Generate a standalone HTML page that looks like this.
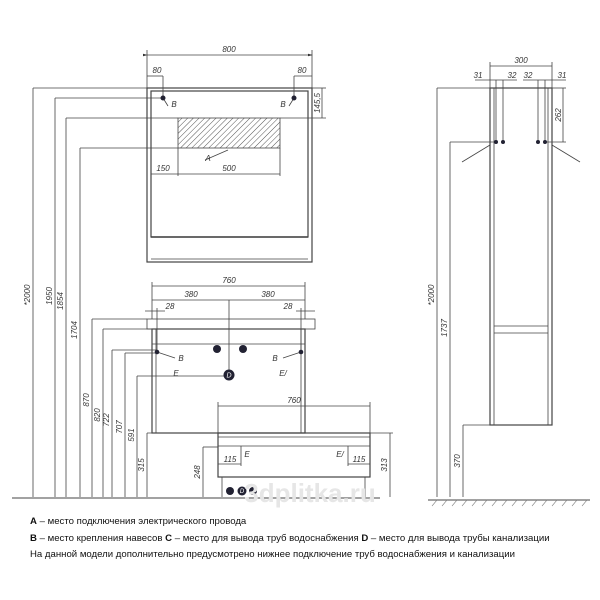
<!DOCTYPE html>
<html><head><meta charset="utf-8"><style>
body{margin:0;background:#fff}
svg{display:block}
text{font-family:"Liberation Sans",sans-serif;}
.d{font-size:8px;font-style:italic;fill:#333}
.t{font-size:9.6px;fill:#111}
</style></head><body>
<svg width="600" height="600" viewBox="0 0 600 600" xmlns="http://www.w3.org/2000/svg">
<defs>
<pattern id="h" width="4" height="4" patternUnits="userSpaceOnUse" patternTransform="rotate(45)"><line x1="0" y1="0" x2="0" y2="4" stroke="#555" stroke-width="1"/></pattern>
<marker id="a" markerWidth="6" markerHeight="6" refX="5" refY="3" orient="auto"><path d="M0,1.5 L6,3 L0,4.5z" fill="#333"/></marker>
</defs>
<g stroke="#444" stroke-width="0.8" fill="none">
<!-- mirror -->
<rect x="147" y="88" width="165" height="174" stroke-width="1.2"/>
<rect x="151" y="91" width="157" height="146" stroke-width="1.2"/>
<line x1="151" y1="237" x2="308" y2="237" stroke-width="1.5"/>
<line x1="151" y1="259" x2="308" y2="259"/>
<rect x="178" y="118" width="102" height="30" fill="url(#h)"/>
<line x1="147" y1="50" x2="147" y2="88"/><line x1="312" y1="50" x2="312" y2="88"/>
<line x1="147" y1="55" x2="312" y2="55" marker-end="url(#a)" marker-start="url(#a)"/>
<line x1="147" y1="76" x2="163" y2="76"/><line x1="163" y1="76" x2="163" y2="98"/>
<line x1="294" y1="76" x2="312" y2="76"/><line x1="294" y1="76" x2="294" y2="98"/>
<line x1="151" y1="174" x2="280" y2="174"/><line x1="178" y1="148" x2="178" y2="176"/><line x1="280" y1="148" x2="280" y2="176"/>
<line x1="312" y1="88" x2="326" y2="88"/><line x1="280" y1="118" x2="326" y2="118"/><line x1="322" y1="88" x2="322" y2="118"/>
<line x1="205" y1="160" x2="228" y2="150"/>
<line x1="168" y1="106" x2="163" y2="98"/><line x1="289" y1="106" x2="294" y2="98"/>
<!-- leaders -->
<line x1="33" y1="88" x2="147" y2="88"/><line x1="55" y1="98" x2="163" y2="98"/>
<line x1="66" y1="118" x2="178" y2="118"/><line x1="80" y1="148" x2="178" y2="148"/>
<line x1="92" y1="319" x2="147" y2="319"/><line x1="103" y1="329" x2="152" y2="329"/>
<line x1="112" y1="350" x2="157" y2="350"/><line x1="125" y1="353" x2="157" y2="353"/>
<line x1="137" y1="376" x2="229" y2="376"/>
<g>
<line x1="33" y1="88" x2="33" y2="497"/><line x1="55" y1="98" x2="55" y2="497"/><line x1="66" y1="118" x2="66" y2="497"/><line x1="80" y1="148" x2="80" y2="497"/>
<line x1="92" y1="319" x2="92" y2="497"/><line x1="103" y1="329" x2="103" y2="497"/><line x1="112" y1="350" x2="112" y2="497"/><line x1="125" y1="353" x2="125" y2="497"/><line x1="137" y1="376" x2="137" y2="497"/><line x1="147" y1="433" x2="147" y2="497"/>
</g>
<line x1="12" y1="498" x2="380" y2="498" stroke-width="1"/>
<!-- vanity -->
<rect x="147" y="319" width="168" height="10"/>
<rect x="152" y="329" width="153" height="104" stroke-width="1.2"/>
<line x1="156" y1="329" x2="156" y2="433"/><line x1="301" y1="329" x2="301" y2="433"/>
<line x1="152" y1="344" x2="305" y2="344"/>
<line x1="152" y1="282" x2="152" y2="319"/><line x1="305" y1="282" x2="305" y2="319"/>
<line x1="152" y1="286" x2="305" y2="286"/><line x1="152" y1="300" x2="305" y2="300"/>
<line x1="229" y1="300" x2="229" y2="376"/>
<line x1="145" y1="311" x2="165" y2="311"/><line x1="296" y1="311" x2="315" y2="311"/>
<line x1="157" y1="308" x2="157" y2="352"/><line x1="301" y1="308" x2="301" y2="352"/>
<line x1="157" y1="352" x2="175" y2="358"/><line x1="301" y1="352" x2="283" y2="358"/>
<!-- lower -->
<line x1="147" y1="433" x2="218" y2="433"/>
<rect x="218" y="433" width="152" height="44" stroke-width="1.2"/>
<line x1="218" y1="437" x2="370" y2="437"/><line x1="218" y1="446" x2="370" y2="446"/>
<line x1="222" y1="477" x2="222" y2="497"/><line x1="365" y1="477" x2="365" y2="497"/>
<line x1="218" y1="402" x2="218" y2="433"/><line x1="370" y1="402" x2="370" y2="433"/>
<line x1="218" y1="406" x2="370" y2="406"/>
<line x1="390" y1="433" x2="390" y2="497"/><line x1="370" y1="433" x2="393" y2="433"/>
<line x1="203" y1="447" x2="203" y2="497"/><line x1="203" y1="447" x2="218" y2="447"/>
<line x1="218" y1="464" x2="241" y2="464"/><line x1="241" y1="446" x2="241" y2="466"/>
<line x1="348" y1="464" x2="370" y2="464"/><line x1="348" y1="446" x2="348" y2="466"/>
<!-- tall cabinet -->
<rect x="490" y="88" width="62" height="337" stroke-width="1.2"/>
<line x1="494" y1="88" x2="494" y2="425"/><line x1="548" y1="88" x2="548" y2="425"/>
<line x1="494" y1="326" x2="548" y2="326"/><line x1="494" y1="333" x2="548" y2="333"/>
<line x1="490" y1="62" x2="490" y2="88"/><line x1="552" y1="62" x2="552" y2="88"/>
<line x1="490" y1="66" x2="552" y2="66"/>
<line x1="475" y1="80" x2="517" y2="80"/><line x1="523" y1="80" x2="566" y2="80"/>
<line x1="496" y1="80" x2="496" y2="142"/><line x1="503" y1="80" x2="503" y2="142"/><line x1="538" y1="80" x2="538" y2="142"/><line x1="545" y1="80" x2="545" y2="142"/>
<line x1="437" y1="88" x2="490" y2="88"/><line x1="552" y1="88" x2="566" y2="88"/>
<line x1="450" y1="142" x2="496" y2="142"/><line x1="545" y1="142" x2="566" y2="142"/>
<line x1="563" y1="88" x2="563" y2="142"/>
<line x1="437" y1="88" x2="437" y2="497"/><line x1="450" y1="142" x2="450" y2="497"/><line x1="463" y1="425" x2="463" y2="497"/><line x1="463" y1="425" x2="490" y2="425"/>
<line x1="490" y1="145" x2="462" y2="162"/><line x1="552" y1="145" x2="580" y2="162"/>
<line x1="428" y1="500" x2="590" y2="500" stroke-width="1"/>
</g>
<g stroke="#888" stroke-width="0.6">
<path d="M432,506l5,-6M442,506l5,-6M452,506l5,-6M462,506l5,-6M472,506l5,-6M482,506l5,-6M492,506l5,-6M502,506l5,-6M512,506l5,-6M522,506l5,-6M532,506l5,-6M542,506l5,-6M552,506l5,-6M562,506l5,-6M572,506l5,-6M582,506l5,-6"/>
</g>
<g fill="#223">
<circle cx="163" cy="98" r="2.5"/><circle cx="294" cy="98" r="2.5"/>
<circle cx="157" cy="352" r="2.3"/><circle cx="301" cy="352" r="2.3"/>
<circle cx="217" cy="349" r="4"/><circle cx="243" cy="349" r="4"/>
<circle cx="229" cy="375" r="5.5"/>
<circle cx="230" cy="491" r="4"/><circle cx="242" cy="491" r="4.5"/><circle cx="253" cy="491" r="4"/>
<circle cx="496" cy="142" r="2"/><circle cx="503" cy="142" r="2"/><circle cx="538" cy="142" r="2"/><circle cx="545" cy="142" r="2"/>
</g>
<g fill="#fff" font-size="5" font-family="Liberation Sans" text-anchor="middle" font-style="italic">
<text x="229" y="377.5" font-size="7">D</text><text x="242" y="493" font-size="6">D</text>
</g>
<text x="310" y="502" font-size="26" fill="#e6e6e6" text-anchor="middle" font-family="Liberation Sans" font-weight="bold">3dplitka.ru</text>
<g class="d" text-anchor="middle">
<text x="229" y="52">800</text><text x="157" y="73">80</text><text x="302" y="73">80</text>
<text x="174" y="107">B</text><text x="283" y="107">B</text><text x="208" y="161">A</text>
<text x="163" y="171">150</text><text x="229" y="171">500</text>
<text x="229" y="283">760</text><text x="191" y="297">380</text><text x="268" y="297">380</text>
<text x="170" y="309">28</text><text x="288" y="309">28</text>
<text x="181" y="361">B</text><text x="275" y="361">B</text>
<text x="176" y="376">E</text><text x="283" y="376">E/</text>
<text x="294" y="403">760</text><text x="230" y="462">115</text><text x="359" y="462">115</text>
<text x="247" y="457">E</text><text x="340" y="457">E/</text>
<text x="521" y="63">300</text><text x="478" y="78">31</text><text x="512" y="78">32</text><text x="528" y="78">32</text><text x="562" y="78">31</text>
</g>
<g class="d" text-anchor="middle">
<text transform="translate(30,295) rotate(-90)">*2000</text>
<text transform="translate(52,296) rotate(-90)">1950</text>
<text transform="translate(63,301) rotate(-90)">1854</text>
<text transform="translate(77,330) rotate(-90)">1704</text>
<text transform="translate(89,400) rotate(-90)">870</text>
<text transform="translate(100,415) rotate(-90)">820</text>
<text transform="translate(109,420) rotate(-90)">722</text>
<text transform="translate(122,427) rotate(-90)">707</text>
<text transform="translate(134,435) rotate(-90)">591</text>
<text transform="translate(144,465) rotate(-90)">315</text>
<text transform="translate(200,472) rotate(-90)">248</text>
<text transform="translate(387,465) rotate(-90)">313</text>
<text transform="translate(320,103) rotate(-90)">145,5</text>
<text transform="translate(434,295) rotate(-90)">*2000</text>
<text transform="translate(447,328) rotate(-90)">1737</text>
<text transform="translate(460,461) rotate(-90)">370</text>
<text transform="translate(561,115) rotate(-90)">262</text>
</g>
<g class="t">
<text x="30" y="524"><tspan font-weight="bold">A</tspan> – место подключения электрического провода</text>
<text x="30" y="541"><tspan font-weight="bold">B</tspan> – место крепления навесов  <tspan font-weight="bold">C</tspan> – место для вывода труб водоснабжения  <tspan font-weight="bold">D</tspan> – место для вывода трубы канализации</text>
<text x="30" y="557">На данной модели дополнительно предусмотрено нижнее подключение труб водоснабжения и канализации</text>
</g>
</svg>
</body></html>
